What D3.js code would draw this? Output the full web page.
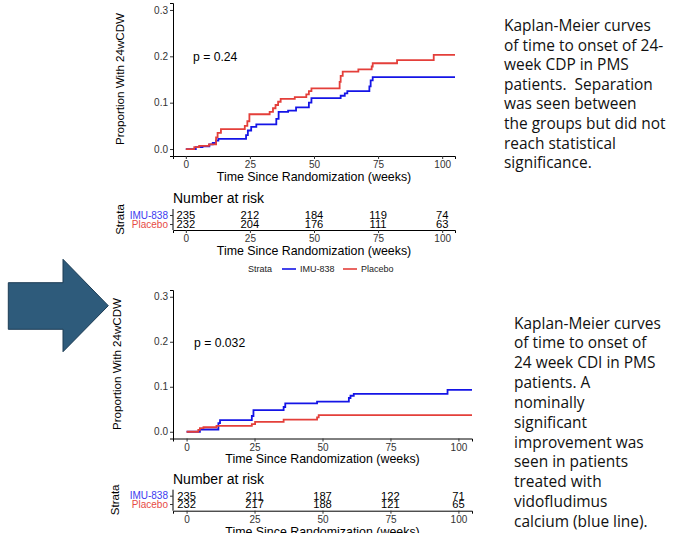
<!DOCTYPE html>
<html>
<head>
<meta charset="utf-8">
<script src="https://cdn.jsdelivr.net/npm/d3@7"></script>
<style>
  body { margin: 0; background: #fff; }
  svg { display: block; }
</style>
</head>
<body>
<svg id="chart" width="680" height="533"></svg>
<script>
// step points (weeks, cumulative proportion)
const topImuT = [0, 3.9, 6.5, 9.2, 10.5, 11.8, 12.7, 23.5, 24.2, 25.5, 27.5, 35.3, 36.2, 39.9, 43, 48, 49, 60.4, 62, 63, 71.6, 72.1, 72.9, 105];
const topImuP = [0, 0.004, 0.006, 0.010, 0.013, 0.018, 0.022, 0.030, 0.040, 0.048, 0.053, 0.065, 0.080, 0.083, 0.090, 0.100, 0.110, 0.115, 0.120, 0.125, 0.135, 0.148, 0.155, 0.155];
const topPlaT = [0, 3.3, 5.2, 9, 11.8, 12.4, 13.7, 23, 24, 24.8, 32.7, 34, 35, 36, 37, 42.5, 47, 48, 49, 60, 60.4, 61.2, 67.3, 72.5, 72.9, 82.4, 96.7, 105];
const topPlaP = [0, 0.004, 0.007, 0.010, 0.025, 0.035, 0.043, 0.050, 0.060, 0.075, 0.080, 0.088, 0.095, 0.102, 0.108, 0.112, 0.118, 0.125, 0.131, 0.145, 0.158, 0.167, 0.172, 0.178, 0.185, 0.192, 0.203, 0.203];

const botImuT = [0, 4.9, 11.7, 12.3, 24, 24.6, 35.7, 36.3, 48, 59.7, 60.3, 61.5, 96, 105];
const botImuP = [0, 0.005, 0.019, 0.026, 0.035, 0.048, 0.055, 0.063, 0.067, 0.075, 0.080, 0.084, 0.093, 0.093];
const botPlaT = [0, 4.3, 4.9, 6.2, 11, 24, 25.2, 35.7, 48, 48.6, 105];
const botPlaP = [0, 0.004, 0.008, 0.010, 0.013, 0.017, 0.022, 0.027, 0.032, 0.037, 0.037];

const riskTimes = [0, 25, 50, 75, 100];
const topRiskImu = [235, 212, 184, 119, 74];
const topRiskPla = [232, 204, 176, 111, 63];
const botRiskImu = [235, 211, 187, 122, 71];
const botRiskPla = [232, 217, 188, 121, 65];

const strata = ["IMU-838", "Placebo"];
const yTicks = [0, 0.1, 0.2, 0.3];
const xTicks = [0, 25, 50, 75, 100];

const topNote = ["Kaplan-Meier curves", "of time to onset of 24-", "week CDP in PMS", "patients.  Separation",
  "was seen between", "the groups but did not", "reach statistical", "significance."];
const botNote = ["Kaplan-Meier curves", "of time to onset of", "24 week CDI in PMS", "patients. A", "nominally",
  "significant", "improvement was", "seen in patients", "treated with", "vidofludimus", "calcium (blue line)."];

const blue = "#1414e6", red = "#e43f3a";
const labBlue = "#3b3bf0", labRed = "#e64a45";
const font = "'Liberation Sans', Arial, sans-serif";

const svg = d3.select("#chart");

function panel(o) {
  const g = svg.append("g").attr("font-family", font);
  const x = d3.scaleLinear().domain([-5, 105]).range([o.x0, o.x1]);
  const y = d3.scaleLinear().domain([-0.015, 0.315]).range([o.yBot, o.yTop]);

  // curves
  const line = d3.line().x(d => x(d[0])).y(d => y(d[1])).curve(d3.curveStepAfter);
  [[o.imuT, o.imuP, blue], [o.plaT, o.plaP, red]].forEach(([t, p, c]) => {
    g.append("path")
      .datum(t.map((v, i) => [v, p[i]]))
      .attr("fill", "none")
      .attr("stroke", c)
      .attr("stroke-width", 1.8)
      .attr("d", line);
  });

  // axes
  const ax = g.append("g").attr("transform", `translate(0,${o.yBot})`)
    .call(d3.axisBottom(x).tickValues(xTicks).tickSize(3).tickPadding(2));
  const ay = g.append("g").attr("transform", `translate(${o.x0},0)`)
    .call(d3.axisLeft(y).tickValues(yTicks).tickFormat(d3.format(".1f")).tickSize(3).tickPadding(2));
  [ax, ay].forEach(a => {
    a.select(".domain").attr("stroke", "#000").attr("stroke-width", 1);
    a.selectAll(".tick line").attr("stroke", "#333");
    a.selectAll("text").attr("font-size", 10).attr("fill", "#333").attr("font-family", font);
  });

  g.append("text").attr("x", (o.x0 + o.x1) / 2).attr("y", o.xTitleY)
    .attr("text-anchor", "middle").attr("font-size", 12.4).text("Time Since Randomization (weeks)");
  g.append("text").attr("transform", `translate(${o.yTitleX},${o.yTitleMid}) rotate(-90)`)
    .attr("text-anchor", "middle").attr("dy", "0.35em").attr("font-size", 11.6).text("Proportion With 24wCDW");
  g.append("text").attr("x", o.pX).attr("y", o.pY).attr("font-size", 12.2).text(o.pText);

  // risk table
  const r = o.risk;
  g.append("text").attr("x", o.x0).attr("y", r.titleY).attr("font-size", 14).text("Number at risk");
  const ry = d3.scalePoint().domain(strata).range([r.row1, r.row2]);
  const rx = g.append("g").attr("transform", `translate(0,${r.axisY})`)
    .call(d3.axisBottom(x).tickValues(xTicks).tickSize(3).tickPadding(2));
  const ryAx = g.append("g").attr("transform", `translate(${o.x0},0)`)
    .call(d3.axisLeft(ry).tickSize(3).tickPadding(2));
  ryAx.select(".domain").attr("d", `M0,${r.row1 - 6}V${r.axisY}`);
  [rx, ryAx].forEach(a => {
    a.select(".domain").attr("stroke", "#000");
    a.selectAll(".tick line").attr("stroke", "#333");
    a.selectAll("text").attr("font-family", font);
  });
  rx.selectAll("text").attr("font-size", 10).attr("fill", "#333");
  ryAx.selectAll("text").attr("font-size", 10)
    .attr("fill", d => d === strata[0] ? labBlue : labRed);

  [[r.imu, strata[0]], [r.pla, strata[1]]].forEach(([vals, s]) => {
    g.append("g").selectAll("text").data(vals).join("text")
      .attr("x", (d, i) => x(riskTimes[i]))
      .attr("y", ry(s))
      .attr("dy", "0.36em")
      .attr("text-anchor", "middle")
      .attr("font-size", 11.2)
      .text(d => d);
  });
  g.append("text").attr("x", (o.x0 + o.x1) / 2).attr("y", r.xTitleY)
    .attr("text-anchor", "middle").attr("font-size", 12.4).text("Time Since Randomization (weeks)");
  g.append("text").attr("transform", `translate(${r.strataX},${(r.row1 + r.row2) / 2}) rotate(-90)`)
    .attr("text-anchor", "middle").attr("dy", "0.35em").attr("font-size", 11.5).text("Strata");
  return x;
}

panel({
  x0: 173, x1: 455, yTop: 3, yBot: 156,
  imuT: topImuT, imuP: topImuP, plaT: topPlaT, plaP: topPlaP,
  xTitleY: 181, yTitleX: 120, yTitleMid: 79,
  pX: 193, pY: 61, pText: "p = 0.24",
  risk: { titleY: 203, row1: 215, row2: 224, axisY: 230, xTitleY: 255, strataX: 120,
          imu: topRiskImu, pla: topRiskPla }
});

panel({
  x0: 173, x1: 472, yTop: 290, yBot: 438.5,
  imuT: botImuT, imuP: botImuP, plaT: botPlaT, plaP: botPlaP,
  xTitleY: 463, yTitleX: 117, yTitleMid: 364,
  pX: 194, pY: 347, pText: "p = 0.032",
  risk: { titleY: 484, row1: 495.7, row2: 504, axisY: 510.7, xTitleY: 536, strataX: 115,
          imu: botRiskImu, pla: botRiskPla }
});

// legend between the panels
const leg = svg.append("g").attr("font-family", font).attr("font-size", 9).attr("fill", "#222");
leg.append("text").attr("x", 248).attr("y", 272).text("Strata");
[[strata[0], blue, 282], [strata[1], red, 343]].forEach(([s, c, lx]) => {
  leg.append("line").attr("x1", lx).attr("x2", lx + 14).attr("y1", 269).attr("y2", 269)
    .attr("stroke", c).attr("stroke-width", 1.6);
  leg.append("text").attr("x", lx + 18).attr("y", 272).text(s);
});

// big arrow
const arrow = [[8.3, 282.7], [63, 282.7], [63, 259.3], [108.3, 305.7], [63, 351.7], [63, 329.3], [8.3, 329.3]];
svg.append("path")
  .attr("d", d3.line()(arrow) + "Z")
  .attr("fill", "#2e5b7b")
  .attr("stroke", "#1d3d55")
  .attr("stroke-width", 1);

// notes on the right
function note(lines, x0, y0, step) {
  const t = svg.append("g").attr("font-family", "'Open Sans', Lato, sans-serif").attr("fill", "#111");
  const probe = t.append("text").attr("font-size", 15).text(lines[0]);
  const size = 15 * 147 / probe.node().getComputedTextLength();
  probe.remove();
  t.selectAll("text").data(lines).join("text")
    .attr("x", x0)
    .attr("y", (d, i) => y0 + i * step)
    .attr("font-size", size)
    .attr("xml:space", "preserve")
    .style("white-space", "pre")
    .text(d => d);
}
note(topNote, 504, 31, 19.6);
note(botNote, 514, 328.5, 19.84);
</script>
</body>
</html>
